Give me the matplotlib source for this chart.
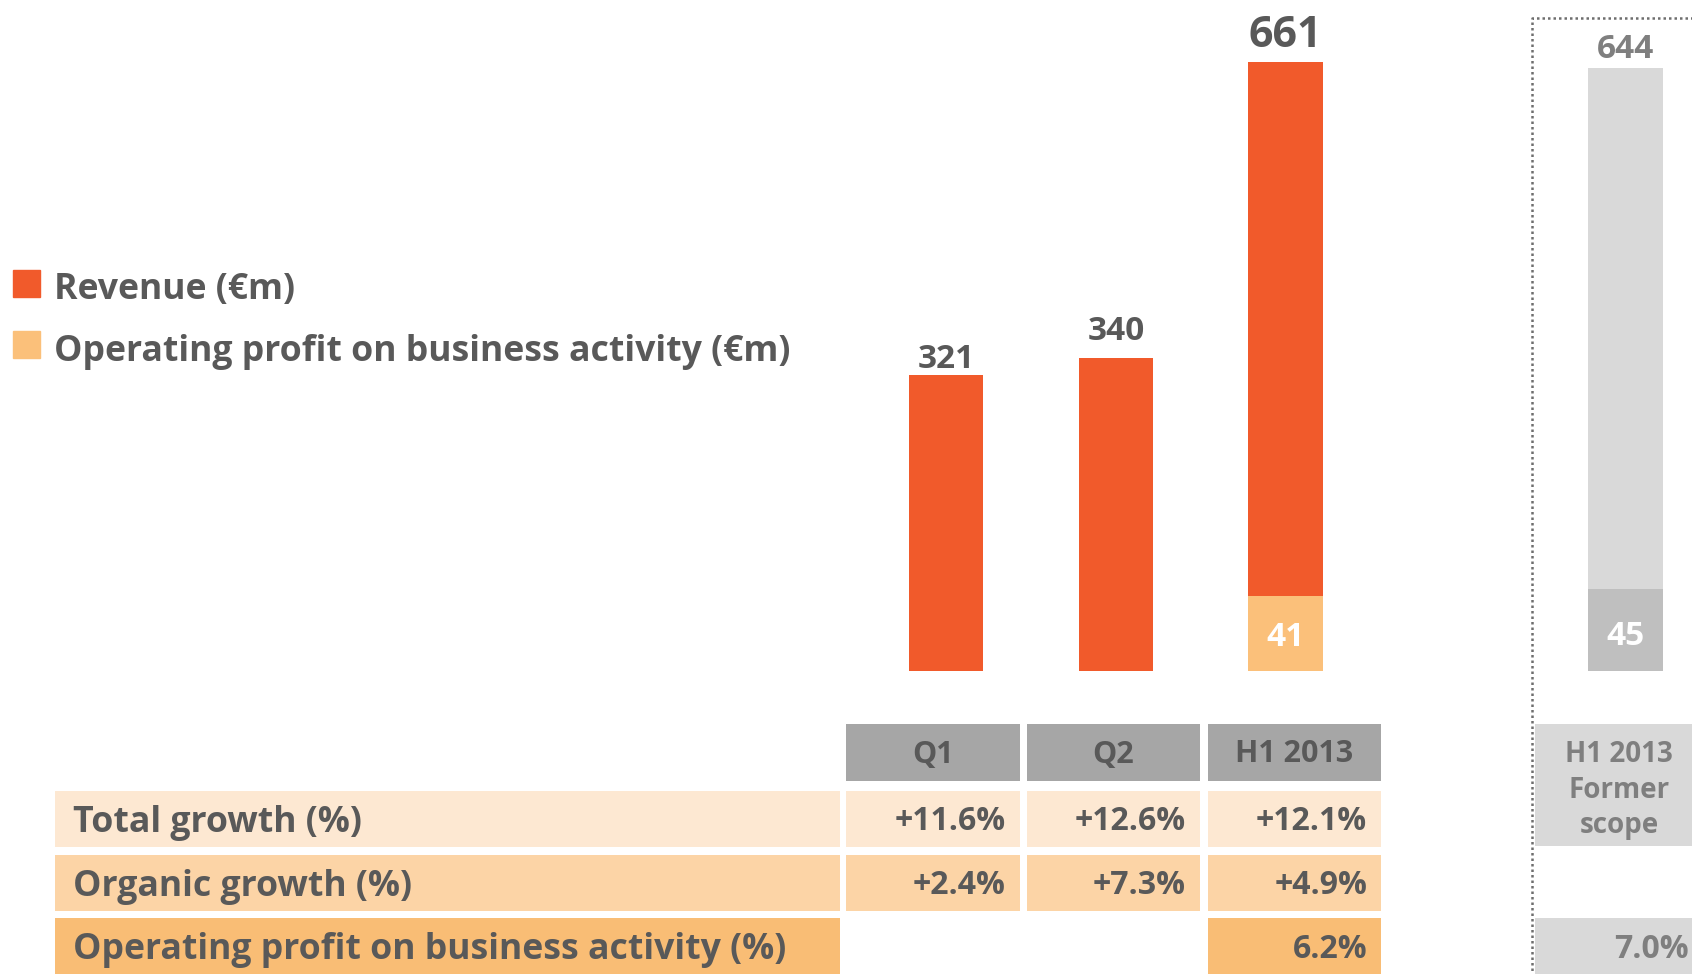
import matplotlib.pyplot as plt
from matplotlib.patches import Rectangle

# ------------------------------
# data
# ------------------------------
periods = ["Q1", "Q2", "H1 2013"]
revenue = [321, 340, 661]
former_revenue = 644

# operating profit (label values) + the height it is drawn at in the slide
op_profit = [None, None, 41]
op_profit_drawn = [0, 0, 82]
former_op_profit = 45
former_op_profit_drawn = 88

row_labels = ["Total growth (%)", "Organic growth (%)", "Operating profit on business activity (%)"]
total_growth = ["+11.6%", "+12.6%", "+12.1%"]
organic_growth = ["+2.4%", "+7.3%", "+4.9%"]
op_margin = ["", "", "6.2%"]
former_header = "H1 2013\nFormer\nscope"
former_op_margin = "7.0%"

# ------------------------------
# style
# ------------------------------
RED = "#F15A2B"
ORANGE = "#FBC07A"
GRAY_LIGHT = "#D9D9D9"
GRAY_DARK = "#BFBFBF"
HEADER = "#A6A6A6"
TXT = "#595959"
TXT_GRAY = "#7F7F7F"
ROW_COLORS = ["#FDE8D2", "#FCD4A6", "#F9BD75"]

plt.rcParams["font.family"] = ["Open Sans", "DejaVu Sans"]
plt.rcParams["font.weight"] = "bold"

W, H = 1692, 974
fig = plt.figure(figsize=(W / 100, H / 100), dpi=100)

# ------------------------------
# bars (main chart)
# ------------------------------
base_px = 671          # baseline of the bars (px from top)
ax = fig.add_axes([0, 1 - base_px / H, 1, base_px / H])
ax.set_axis_off()
xpos = [0, 1, 2]
bw = 0.4385

ax.bar(xpos, revenue, width=bw, color=RED, zorder=2)
ax.bar(xpos, op_profit_drawn, width=bw, color=ORANGE, zorder=3)
ax.set_xlim(-5.567, 4.391)
ax.set_ylim(0, base_px / 0.9207)

label_pad = [-0.5, 7, 4]
label_size = [24, 24, 31]
for x, v, pad, fs in zip(xpos, revenue, label_pad, label_size):
    ax.annotate(str(v), (x, v), xytext=(0, pad), textcoords="offset points",
                ha="center", va="bottom", fontsize=fs, color=TXT, fontweight="bold")

for x, v, h in zip(xpos, op_profit, op_profit_drawn):
    if v is not None:
        ax.annotate(str(v), (x, h / 2), xytext=(0, -3), textcoords="offset points",
                    ha="center", va="center", fontsize=24, color="white",
                    fontweight="bold", zorder=4)

# ------------------------------
# former scope bar (separate chart with its own scale)
# ------------------------------
ax2 = fig.add_axes([0, 1 - base_px / H, 1, base_px / H])
ax2.set_axis_off()
ax2.patch.set_alpha(0)
ax2.bar([4], [former_revenue], width=bw, color=GRAY_LIGHT, zorder=2)
ax2.bar([4], [former_op_profit_drawn], width=bw, color=GRAY_DARK, zorder=3)
ax2.set_xlim(-5.567, 4.391)
ax2.set_ylim(0, base_px / 0.9366)
ax2.annotate(str(former_revenue), (4, former_revenue), xytext=(0, 1.5),
             textcoords="offset points", ha="center", va="bottom",
             fontsize=24, color=TXT_GRAY, fontweight="bold")
ax2.annotate(str(former_op_profit), (4, former_op_profit_drawn / 2), xytext=(0, -5),
             textcoords="offset points", ha="center", va="center", fontsize=24,
             color="white", fontweight="bold", zorder=4)

# ------------------------------
# layout layer (pixel coords): legend, table, dotted frame
# ------------------------------
lay = fig.add_axes([0, 0, 1, 1])
lay.set_axis_off()
lay.set_xlim(0, W)
lay.set_ylim(H, 0)
lay.patch.set_alpha(0)


def cell(x0, y0, x1, y1, color):
    lay.add_patch(Rectangle((x0, y0), x1 - x0, y1 - y0, facecolor=color,
                            edgecolor="none", zorder=1))


# legend
lay.add_patch(Rectangle((13, 270), 27, 27, color=RED))
lay.add_patch(Rectangle((13, 331), 27, 27, color=ORANGE))
lay.text(54, 289.5, "Revenue (€m)", fontsize=25.7, color=TXT, va="center", ha="left")
lay.text(54, 352, "Operating profit on business activity (€m)", fontsize=25.7,
         color=TXT, va="center", ha="left")

# table
cols = [(846, 1020), (1027, 1200), (1207.5, 1381)]
label_col = (55, 839.5)
header_row = (724, 781)
rows = [(791, 847), (855, 911), (918, 974)]

for (x0, x1), name in zip(cols, periods):
    cell(x0, header_row[0], x1, header_row[1], HEADER)
    lay.text((x0 + x1) / 2, sum(header_row) / 2 + 2, name, fontsize=22, color=TXT,
             ha="center", va="center")

row_values = [total_growth, organic_growth, op_margin]
for (y0, y1), color, lab, vals in zip(rows, ROW_COLORS, row_labels, row_values):
    cell(label_col[0], y0, label_col[1], y1, color)
    lay.text(73, (y0 + y1) / 2 + 4, lab, fontsize=25.7, color=TXT, ha="left", va="center")
    for (x0, x1), v in zip(cols, vals):
        if v == "":
            continue
        cell(x0, y0, x1, y1, color)
        lay.text(x1 - 14, (y0 + y1) / 2 + 3, v, fontsize=23, color=TXT,
                 ha="right", va="center")

# former scope column
cell(1534.5, 724, W, 846, GRAY_LIGHT)
lay.text(1619, 790, former_header, fontsize=20, color=TXT_GRAY, ha="center",
         va="center", linespacing=1.3)
cell(1534.5, rows[2][0], W, rows[2][1], GRAY_LIGHT)
lay.text(W - 3, sum(rows[2]) / 2 + 3, former_op_margin, fontsize=23,
         color=TXT_GRAY, ha="right", va="center")

# dotted frame around former scope
lay.plot([W + 5, 1532, 1532], [18, 18, H + 5], color="#6E6E6E", lw=1.8,
         linestyle=(0, (1, 1.2)), zorder=5, clip_on=False)

fig.savefig("out.png", dpi=100)
